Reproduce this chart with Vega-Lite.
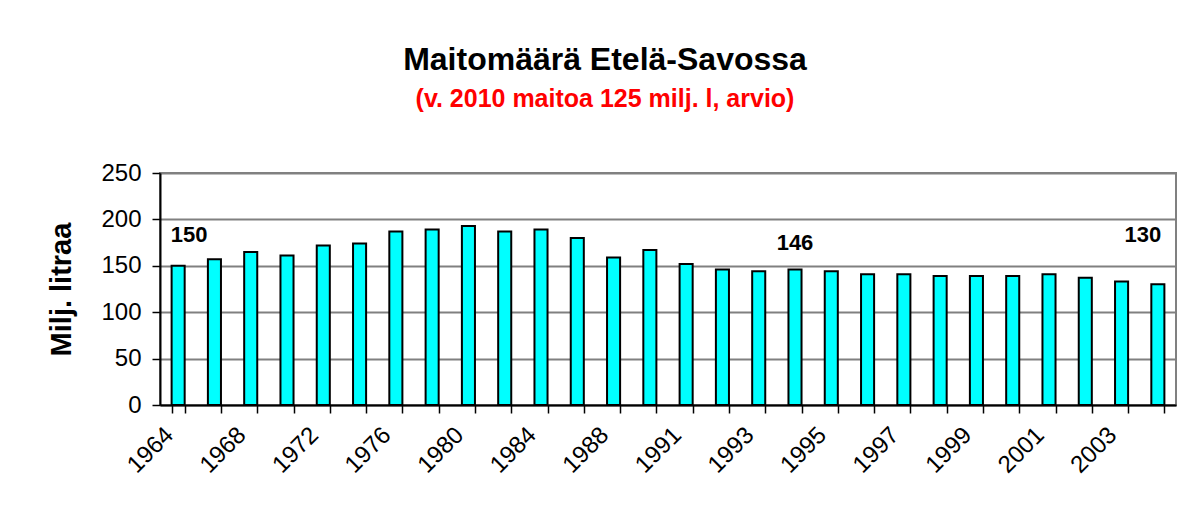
{
  "$schema": "https://vega.github.io/schema/vega-lite/v6.json",
  "width": 1016,
  "height": 232,
  "autosize": {"type": "none"},
  "padding": {"left": 160, "top": 173, "right": 27, "bottom": 116},
  "background": "white",
  "title": {
    "text": "Maitomäärä Etelä-Savossa",
    "subtitle": "(v. 2010 maitoa 125 milj. l, arvio)",
    "anchor": "middle",
    "frame": "group",
    "dx": -63,
    "font": "Liberation Sans",
    "fontSize": 32,
    "fontWeight": "bold",
    "color": "black",
    "subtitleFont": "Liberation Sans",
    "subtitleFontSize": 25,
    "subtitleFontWeight": "bold",
    "subtitleColor": "#FF0000",
    "subtitlePadding": 10,
    "offset": 48
  },
  "config": {
    "view": {"stroke": "#808080", "strokeWidth": 2},
    "font": "Liberation Sans"
  },
  "data": {
    "values": [
      {"year": "1964", "value": 150, "note": "150"},
      {"year": "1966", "value": 157},
      {"year": "1968", "value": 165},
      {"year": "1970", "value": 161},
      {"year": "1972", "value": 172},
      {"year": "1974", "value": 174},
      {"year": "1976", "value": 187},
      {"year": "1978", "value": 189},
      {"year": "1980", "value": 193},
      {"year": "1982", "value": 187},
      {"year": "1984", "value": 189},
      {"year": "1986", "value": 180},
      {"year": "1988", "value": 159},
      {"year": "1990", "value": 167},
      {"year": "1991", "value": 152},
      {"year": "1992", "value": 146},
      {"year": "1993", "value": 144},
      {"year": "1994", "value": 146, "note": "146"},
      {"year": "1995", "value": 144},
      {"year": "1996", "value": 141},
      {"year": "1997", "value": 141},
      {"year": "1998", "value": 139},
      {"year": "1999", "value": 139},
      {"year": "2000", "value": 139},
      {"year": "2001", "value": 141},
      {"year": "2002", "value": 137},
      {"year": "2003", "value": 133},
      {"year": "2004", "value": 130, "note": "130"}
    ]
  },
  "encoding": {
    "x": {
      "field": "year",
      "type": "ordinal",
      "sort": null,
      "scale": {"paddingInner": 0.64, "paddingOuter": 0.32},
      "axis": {
        "title": null,
        "labelExpr": "indexof(['1964','1968','1972','1976','1980','1984','1988','1991','1993','1995','1997','1999','2001','2003'], datum.label) >= 0 ? datum.label : ''",
        "labelAngle": -45,
        "labelAlign": "right",
        "labelBaseline": "middle",
        "labelFontSize": 24,
        "labelColor": "black",
        "labelPadding": 18,
        "labelOffset": -9,
        "labelOverlap": false,
        "tickBand": "extent",
        "tickSize": 8,
        "tickColor": "black",
        "tickWidth": 1.5,
        "domainColor": "black",
        "domainWidth": 2,
        "grid": false
      }
    },
    "y": {
      "field": "value",
      "type": "quantitative",
      "scale": {"domain": [0, 250], "nice": false},
      "axis": {
        "title": "Milj. litraa",
        "titleFontSize": 29,
        "titleFontWeight": "bold",
        "titleColor": "black",
        "titlePadding": 24,
        "values": [0, 50, 100, 150, 200, 250],
        "labelFontSize": 24,
        "labelColor": "black",
        "labelPadding": 11,
        "tickSize": 8,
        "tickColor": "black",
        "tickWidth": 1.5,
        "domainColor": "black",
        "domainWidth": 2,
        "grid": true,
        "gridColor": "#808080",
        "gridWidth": 2
      }
    }
  },
  "layer": [
    {
      "mark": {"type": "bar", "fill": "#00FFFF", "stroke": "black", "strokeWidth": 2}
    },
    {
      "transform": [{"filter": "datum.year == '1964'"}],
      "mark": {"type": "text", "fontSize": 22, "fontWeight": "bold", "color": "black", "dx": 11, "baseline": "middle"},
      "encoding": {"y": {"datum": 183}, "text": {"field": "note"}}
    },
    {
      "transform": [{"filter": "datum.year == '1994'"}],
      "mark": {"type": "text", "fontSize": 22, "fontWeight": "bold", "color": "black", "dx": 0, "baseline": "middle"},
      "encoding": {"y": {"datum": 175}, "text": {"field": "note"}}
    },
    {
      "transform": [{"filter": "datum.year == '2004'"}],
      "mark": {"type": "text", "fontSize": 22, "fontWeight": "bold", "color": "black", "dx": -15, "baseline": "middle"},
      "encoding": {"y": {"datum": 183}, "text": {"field": "note"}}
    }
  ]
}
